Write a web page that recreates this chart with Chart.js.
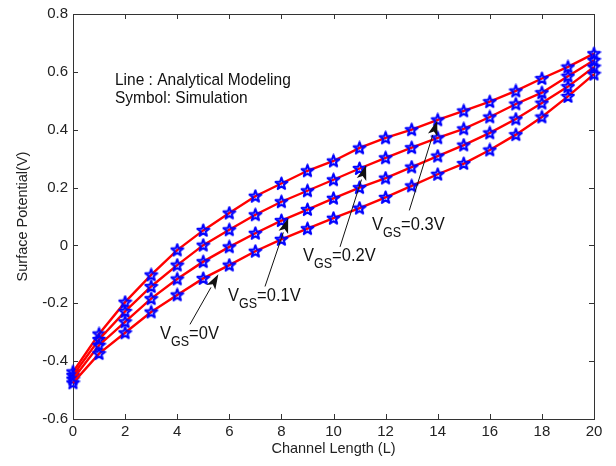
<!DOCTYPE html>
<html>
<head>
<meta charset="utf-8">
<script src="https://cdn.jsdelivr.net/npm/chart.js@4"></script>
<style>
  html, body { margin: 0; padding: 0; background: #fff; }
  #wrap { width: 616px; height: 466px; }
</style>
</head>
<body>
<div id="wrap"><canvas id="chart" width="616" height="466"></canvas></div>
<script>
// Channel positions (L)
const channelLength = [0, 1, 2, 3, 4, 5, 6, 7, 8, 9, 10, 11, 12, 13, 14, 15, 16, 17, 18, 19, 20];

// Surface potential (V) for each gate-source voltage
const phiVgs0  = [-0.475, -0.374, -0.302, -0.230, -0.171, -0.114, -0.068, -0.020, 0.021, 0.058, 0.094, 0.129, 0.166, 0.206, 0.246, 0.283, 0.330, 0.383, 0.444, 0.515, 0.592];
const phiVgs01 = [-0.462, -0.345, -0.264, -0.184, -0.116, -0.056, -0.005, 0.042, 0.086, 0.124, 0.163, 0.200, 0.233, 0.271, 0.309, 0.347, 0.389, 0.437, 0.492, 0.549, 0.617];
const phiVgs02 = [-0.449, -0.325, -0.228, -0.142, -0.068, 0.001, 0.054, 0.106, 0.151, 0.189, 0.227, 0.266, 0.303, 0.338, 0.372, 0.403, 0.444, 0.489, 0.528, 0.585, 0.640];
const phiVgs03 = [-0.437, -0.306, -0.196, -0.102, -0.016, 0.052, 0.112, 0.170, 0.214, 0.258, 0.292, 0.337, 0.372, 0.400, 0.434, 0.465, 0.497, 0.534, 0.577, 0.617, 0.663];

const seriesNames = ['V_GS=0V', 'V_GS=0.1V', 'V_GS=0.2V', 'V_GS=0.3V'];
const seriesValues = [phiVgs0, phiVgs01, phiVgs02, phiVgs03];

// Tick labels
const xTickLabels = ['0', '2', '4', '6', '8', '10', '12', '14', '16', '18', '20'];
const yTickLabels = ['-0.6', '-0.4', '-0.2', '0', '0.2', '0.4', '0.6', '0.8'];

// Curve annotations: subscripted label text plus arrow (in data units)
const curveNotes = [
  { main: 'V', sub: 'GS', rest: '=0V',   text: [3.34, -0.324], tail: [4.49, -0.273], tip: [5.58, -0.100] },
  { main: 'V', sub: 'GS', rest: '=0.1V', text: [5.95, -0.193], tail: [7.37, -0.142], tip: [8.26, 0.094] },
  { main: 'V', sub: 'GS', rest: '=0.2V', text: [8.83, -0.053], tail: [10.25, -0.005], tip: [11.25, 0.277] },
  { main: 'V', sub: 'GS', rest: '=0.3V', text: [11.48, 0.053], tail: [12.91, 0.121], tip: [13.98, 0.431] }
];
const legendLines = ['Line : Analytical Modeling', 'Symbol: Simulation'];

const FONT = '"Liberation Sans", Arial, sans-serif';
const TEXT_STRETCH = 1.12;

// Pentagram marker
function makeStar() {
  const c = document.createElement('canvas');
  c.width = 15; c.height = 15;
  const g = c.getContext('2d');
  g.beginPath();
  for (let i = 0; i < 10; i++) {
    const r = i % 2 ? 2.5 : 6.2;
    const a = -Math.PI / 2 + i * Math.PI / 5;
    g.lineTo(7.5 + r * Math.cos(a), 7.8 + r * Math.sin(a));
  }
  g.closePath();
  g.strokeStyle = '#0000ff';
  g.lineWidth = 2.1;
  g.lineJoin = 'round';
  g.stroke();
  return c;
}
const star = makeStar();

// Text drawn slightly taller than wide, anchored on its baseline
function tallText(ctx, str, x, y) {
  ctx.save();
  ctx.translate(x, y);
  ctx.scale(1, TEXT_STRETCH);
  ctx.fillText(str, 0, 0);
  ctx.restore();
}

// Axes box with inward tick marks on all four sides
const boxPlugin = {
  id: 'boxAxes',
  beforeDatasetsDraw(chart) {
    const { ctx, chartArea: a, scales: { x, y } } = chart;
    ctx.save();
    ctx.strokeStyle = '#333';
    ctx.lineWidth = 1;
    ctx.strokeRect(Math.round(a.left) + 0.5, Math.round(a.top) + 0.5,
                   Math.round(a.right - a.left), Math.round(a.bottom - a.top));
    const len = 5;
    ctx.beginPath();
    x.ticks.forEach(t => {
      const px = Math.round(x.getPixelForValue(t.value)) + 0.5;
      ctx.moveTo(px, a.bottom); ctx.lineTo(px, a.bottom - len);
      ctx.moveTo(px, a.top); ctx.lineTo(px, a.top + len);
    });
    y.ticks.forEach(t => {
      const py = Math.round(y.getPixelForValue(t.value)) + 0.5;
      ctx.moveTo(a.left, py); ctx.lineTo(a.left + len, py);
      ctx.moveTo(a.right, py); ctx.lineTo(a.right - len, py);
    });
    ctx.stroke();
    ctx.restore();
  },
  afterDatasetsDraw(chart) {
    const { ctx, scales: { x, y } } = chart;
    ctx.save();
    ctx.fillStyle = '#111';
    ctx.strokeStyle = '#111';
    ctx.textBaseline = 'alphabetic';
    ctx.textAlign = 'left';

    // Text block describing line and symbol meaning
    ctx.font = '15.5px ' + FONT;
    tallText(ctx, legendLines[0], 115, 85);
    tallText(ctx, legendLines[1], 115, 103);

    curveNotes.forEach(n => {
      // arrow
      const x0 = x.getPixelForValue(n.tail[0]), y0 = y.getPixelForValue(n.tail[1]);
      const x1 = x.getPixelForValue(n.tip[0]),  y1 = y.getPixelForValue(n.tip[1]);
      const ang = Math.atan2(y1 - y0, x1 - x0);
      const hl = 15, hw = 5;
      ctx.lineWidth = 1;
      ctx.beginPath();
      ctx.moveTo(x0, y0);
      ctx.lineTo(x1 - hl * Math.cos(ang), y1 - hl * Math.sin(ang));
      ctx.stroke();
      ctx.beginPath();
      ctx.moveTo(x1, y1);
      ctx.lineTo(x1 - hl * Math.cos(ang) + hw * Math.sin(ang), y1 - hl * Math.sin(ang) - hw * Math.cos(ang));
      ctx.lineTo(x1 - hl * 0.75 * Math.cos(ang), y1 - hl * 0.75 * Math.sin(ang));
      ctx.lineTo(x1 - hl * Math.cos(ang) - hw * Math.sin(ang), y1 - hl * Math.sin(ang) + hw * Math.cos(ang));
      ctx.closePath();
      ctx.fill();

      // label with subscript
      let tx = x.getPixelForValue(n.text[0]);
      const ty = y.getPixelForValue(n.text[1]);
      ctx.font = '16.5px ' + FONT;
      tallText(ctx, n.main, tx, ty);
      tx += ctx.measureText(n.main).width;
      ctx.font = '12.5px ' + FONT;
      tallText(ctx, n.sub, tx, ty + 7);
      tx += ctx.measureText(n.sub).width;
      ctx.font = '16.5px ' + FONT;
      tallText(ctx, n.rest, tx, ty);
    });
    ctx.restore();
  }
};

const datasets = seriesValues.map((vals, i) => ({
  label: seriesNames[i],
  data: channelLength.map((L, k) => ({ x: L, y: vals[k] })),
  borderColor: '#ff0000',
  borderWidth: 2.4,
  tension: 0,
  pointStyle: star,
  pointRadius: 7,
  pointHoverRadius: 7,
  clip: false
}));

new Chart(document.getElementById('chart'), {
  type: 'line',
  data: { datasets },
  options: {
    responsive: false,
    animation: false,
    events: [],
    layout: { padding: { top: 10, right: 22, left: 0, bottom: 0 } },
    plugins: { legend: { display: false }, tooltip: { enabled: false } },
    scales: {
      x: {
        type: 'linear', min: 0, max: 20,
        grid: { display: false, drawTicks: false },
        border: { display: false },
        ticks: {
          stepSize: 2, padding: 4, color: '#222',
          font: { family: FONT, size: 15 },
          maxRotation: 0,
          callback: (v, i) => xTickLabels[i]
        },
        title: {
          display: true, text: 'Channel Length (L)', color: '#222',
          font: { family: FONT, size: 14.5 },
          padding: { top: 0, bottom: 8 }
        },
        afterFit: s => { s.height = 47; }
      },
      y: {
        min: -0.6, max: 0.8,
        grid: { display: false, drawTicks: false },
        border: { display: false },
        ticks: {
          stepSize: 0.2, padding: 5, color: '#222',
          font: { family: FONT, size: 15 },
          callback: (v, i) => yTickLabels[i]
        },
        title: {
          display: true, text: 'Surface Potential(V)', color: '#222',
          font: { family: FONT, size: 14.5 },
          padding: { top: 14, bottom: 0 }
        },
        afterFit: s => { s.width = 73; }
      }
    }
  },
  plugins: [boxPlugin]
});
</script>
</body>
</html>
